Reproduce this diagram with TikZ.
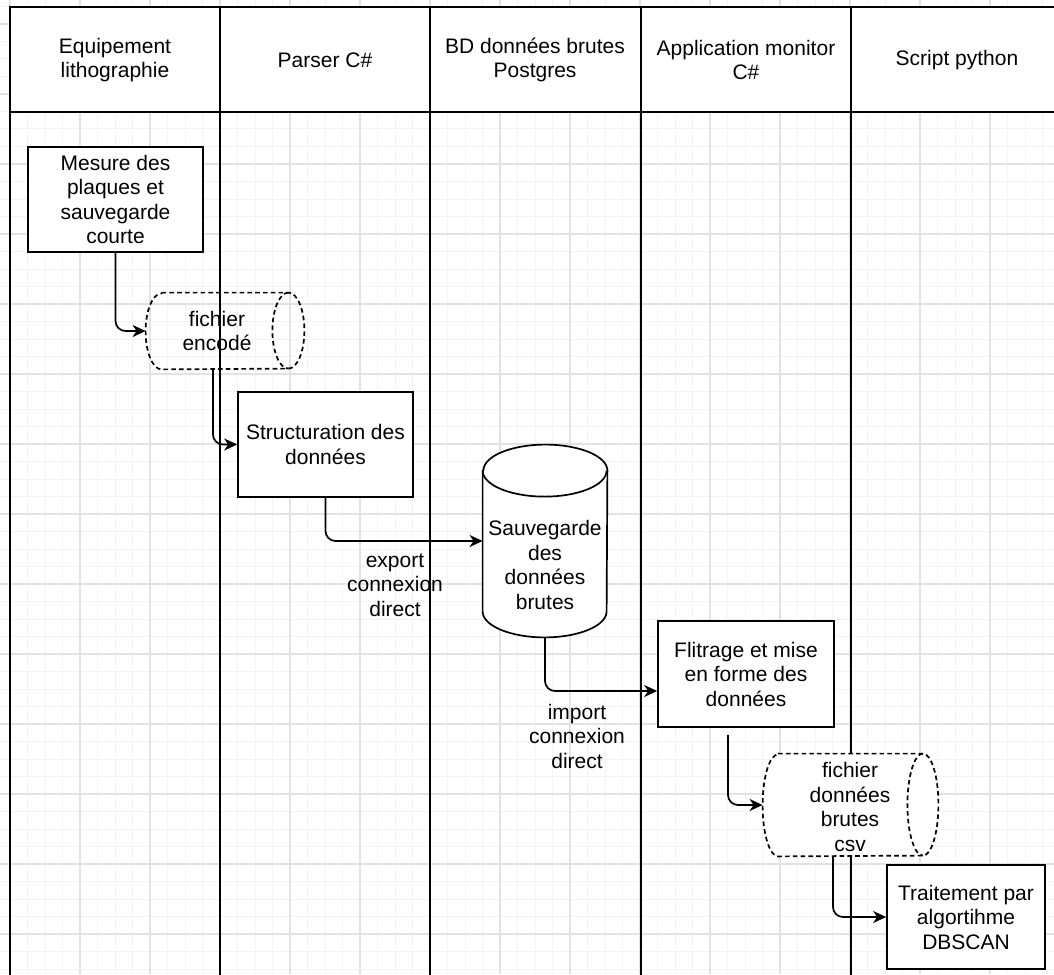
\documentclass[tikz,border=0pt]{standalone}
\usepackage{fontspec}
\setmainfont{Liberation Sans}
\usetikzlibrary{arrows.meta,positioning,calc}
\definecolor{gridmin}{HTML}{F3F3F3}
\definecolor{gridmaj}{HTML}{E2E2E2}
\tikzset{
  txt/.style={align=center, font=\fontsize{10.5}{12.25}\selectfont},
  box/.style={txt, draw, rectangle, fill=white, line width=0.85pt, inner sep=2pt},
  hull/.style={rectangle, inner sep=0pt},
  dashline/.style={line width=0.85pt, dash pattern=on 2.3pt off 1.6pt},
  solid/.style={line width=0.85pt},
  lane/.style={line width=0.9pt},
  arr/.style={-{Stealth[length=6.5pt, width=6pt, inset=2pt]}, line width=0.85pt, rounded corners=5pt},
  lbl/.style={txt, inner sep=0pt}
}
\begin{document}
\begin{tikzpicture}[x=0.5pt, y=-0.5pt]
\useasboundingbox (0,0) rectangle (1054,974);
% grille de fond
\begin{scope}
\clip (0,0) rectangle (1054,974);
\foreach \i in {0,...,61} \draw[gridmin, line width=0.5pt] ({-7.5+17.5*\i},0) -- ++(0,974);
\foreach \i in {0,...,56} \draw[gridmin, line width=0.5pt] (0,{6.5+17.5*\i}) -- ++(1054,0);
\foreach \i in {0,...,15} \draw[gridmaj, line width=0.6pt] ({10+70*\i},0) -- ++(0,974);
\foreach \i in {0,...,13} \draw[gridmaj, line width=0.6pt] (0,{24+70*\i}) -- ++(1054,0);
\end{scope}
% couloirs
\fill[white] (10,7) rectangle (1070,112);
\draw[lane] (1070,7) -- (10,7) -- (10,980);
\draw[lane] (10,112) -- (1070,112);
\foreach \x in {220,430,641,851} \draw[lane] (\x,7) -- (\x,980);
\node[txt] (h1) at (115,60) {Equipement\\lithographie};
\node[txt] (h2) at (325,60) {Parser C\#};
\node[txt] (h3) at (535,60) {BD données brutes\\Postgres};
\node[txt] (h4) at (746,60) {Application monitor\\C\#};
\node[txt] (h5) at (957,60) {Script python};
% etapes
\node[box, minimum width=87.5pt, minimum height=52.5pt] (mes) at (115.5,199.5) {Mesure des\\plaques et\\sauvegarde\\courte};
\node[box, minimum width=87.5pt, minimum height=52.5pt] (struct) at (325.5,444.5) {Structuration des\\données};
\node[box, minimum width=88pt, minimum height=53pt] (filt) at (746,674) {Flitrage et mise\\en forme des\\données};
\node[box, minimum width=79pt, minimum height=52pt] (dbs) at (966,917) {Traitement par\\algortihme\\DBSCAN};
% fichier encode (cylindre couche)
\node[hull, minimum width=79pt, minimum height=38pt] (enc) at (225,331) {};
\draw[dashline] ([xshift=8pt]enc.north west) -- ([xshift=-8pt]enc.north east)
  arc[start angle=90, end angle=-90, x radius=8pt, y radius=19pt]
  -- ([xshift=8pt]enc.south west)
  arc[start angle=270, end angle=90, x radius=8pt, y radius=19pt] -- cycle;
\draw[dashline] ([xshift=-8pt]enc.north east) arc[start angle=90, end angle=270, x radius=8pt, y radius=19pt];
\node[txt] (enctxt) at (217,331) {fichier\\encodé};
% base postgres
\node[hull, minimum width=62pt, minimum height=96pt] (raw) at (545,541) {};
\draw[solid, fill=white] ([yshift=-13pt]raw.north west) -- ([yshift=13pt]raw.south west)
  arc[start angle=180, end angle=360, x radius=31pt, y radius=13pt]
  -- ([yshift=-13pt]raw.north east)
  arc[start angle=0, end angle=180, x radius=31pt, y radius=13pt] -- cycle;
\draw[solid] ([yshift=-13pt]raw.north west) arc[start angle=180, end angle=360, x radius=31pt, y radius=13pt];
\node[txt] (rawtxt) at (545,565) {Sauvegarde\\des\\données\\brutes};
% fichier csv
\node[hull, minimum width=87.5pt, minimum height=51pt] (csv) at (850.5,805) {};
\draw[dashline, fill=white] ([xshift=7.75pt]csv.north west) -- ([xshift=-7.75pt]csv.north east)
  arc[start angle=90, end angle=-90, x radius=7.75pt, y radius=25.5pt]
  -- ([xshift=7.75pt]csv.south west)
  arc[start angle=270, end angle=90, x radius=7.75pt, y radius=25.5pt] -- cycle;
\draw[dashline] ([xshift=-7.75pt]csv.north east) arc[start angle=90, end angle=270, x radius=7.75pt, y radius=25.5pt];
\node[txt] (csvtxt) at (850,807) {fichier\\données\\brutes\\csv};
% liaisons
\draw[arr] (mes.south) |- (enc.west);
\draw[arr] ([xshift=-6pt]enc.south) |- (struct.west);
\draw[arr] (struct.south) |- (raw.west);
\draw[arr] (raw.south) |- ([yshift=-8.5pt]filt.west);
\draw[arr, shorten <=3.5pt] ([xshift=-9pt]filt.south) |- (csv.west);
\draw[arr] ([xshift=-8.75pt]csv.south) |- (dbs.west);
\node[lbl] (exp) at (395,585) {export\\connexion\\direct};
\node[lbl] (imp) at (577,736) {import\\connexion\\direct};
\end{tikzpicture}
\end{document}
